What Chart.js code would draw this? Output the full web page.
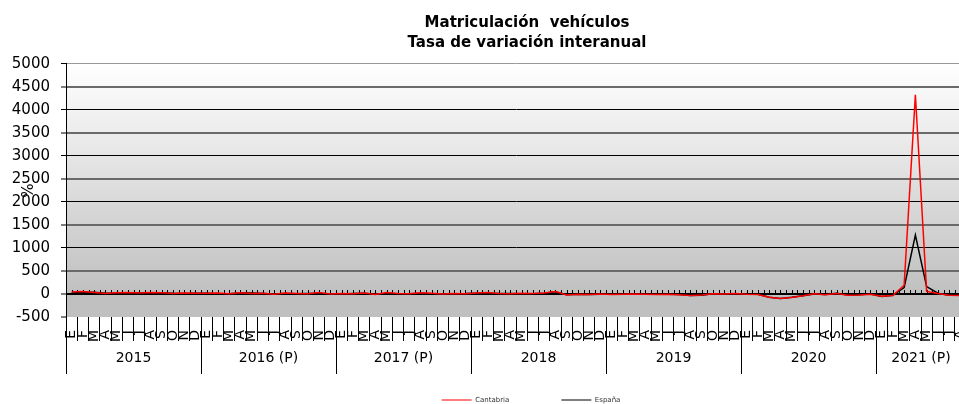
<!DOCTYPE html>
<html><head><meta charset="utf-8">
<script src="https://cdn.jsdelivr.net/npm/chart.js@4/dist/chart.umd.min.js"></script>
<style>
html,body{margin:0;padding:0;background:#fff;overflow:hidden;}
#wrap{width:959px;height:404px;overflow:hidden;position:relative;}
canvas{display:block;}
.warm{position:absolute;left:-9999px;top:0;font-family:'DejaVu Sans';}
</style></head><body>
<div class="warm">Aa0 <b>Aa0</b></div>
<div id="wrap"><canvas id="c" width="1054" height="404"></canvas></div>
<script>
const monthLetters = ['E','F','M','A','M','J','J','A','S','O','N','D'];
const years = ['2015','2016 (P)','2017 (P)','2018','2019','2020','2021 (P)'];
const monthsPerYear = [12,12,12,12,12,12,8];
const cantabria = [
  45, 55, 30, 10, 25, 35, 20, 30, 25, 10, 20, 15,
  15, 20, 5, 25, 10, 15, -5, 20, 10, 5, 30, 0,
  10, 5, 20, -10, 30, 10, 5, 25, 15, 0, 10, 5,
  20, 35, 10, 5, 15, 10, 20, 55, -20, -5, -10, 0,
  -10, -5, 0, -8, -12, -5, -15, -30, -20, 5, 0, 10,
  -5, -10, -70, -98, -75, -40, 5, -15, 10, -25, -20, -5,
  -50, -35, 190, 4330, 55, 10, -25, -30
];
const espana = [
  27, 31, 39, 15, 19, 24, 20, 24, 24, 14, 13, 15,
  16, 8, 5, 22, 20, 11, 1, 13, 8, 9, 10, 1,
  2, 9, 15, -6, 11, 7, 6, 10, 4, 8, 8, 9,
  17, 12, 12, 12, 8, 8, 17, 48, -17, -6, -12, -3,
  -8, -8, -4, -3, -7, -8, -11, -30, -26, 6, 2, 7,
  -7, -6, -69, -96, -72, -36, 1, -10, 14, -21, -19, -2,
  -55, -30, 140, 1280, 160, 17, -29, -28
];
const yMin = -500, yMax = 5000, yStep = 500;
const seriesNames = ['Cantabria', 'España'];
const titleLines = ['Matriculación  vehículos', 'Tasa de variación interanual'];

const labels = [];
monthsPerYear.forEach(n => { for (let i = 0; i < n; i++) labels.push(monthLetters[i]); });
const yearBounds = [-0.5];
const yearCenters = {};
let acc = 0;
monthsPerYear.forEach((n, i) => {
  yearCenters[(acc + n / 2 - 0.5).toFixed(2)] = years[i];
  acc += n;
  yearBounds.push(acc - 0.5);
});

const FONT = "'DejaVu Sans', Verdana, sans-serif";

const bgPlugin = {
  id: 'bg',
  beforeDraw(chart) {
    const {ctx, chartArea: a, scales: {y}} = chart;
    const z = y.getPixelForValue(0);
    const g = ctx.createLinearGradient(0, a.top, 0, z);
    g.addColorStop(0, '#ffffff');
    g.addColorStop(1, '#c0c0c0');
    ctx.save();
    ctx.fillStyle = g;
    ctx.fillRect(a.left, a.top, a.right - a.left, z - a.top);
    ctx.fillStyle = '#c0c0c0';
    ctx.fillRect(a.left, z, a.right - a.left, a.bottom - z);
    ctx.restore();
  }
};
const zeroTicks = {
  id: 'zeroTicks',
  beforeDatasetsDraw(chart) {
    const {ctx, scales: {x, y}} = chart;
    const z = Math.round(y.getPixelForValue(0));
    ctx.save();
    ctx.strokeStyle = '#000';
    ctx.lineWidth = 1;
    ctx.beginPath();
    for (let k = 0; k <= 2 * labels.length; k++) {
      const px = Math.round(x.getPixelForValue(k / 2 - 0.5)) + 0.5;
      ctx.moveTo(px, z - 4);
      ctx.lineTo(px, z);
    }
    ctx.stroke();
    ctx.restore();
  }
};
const legendShift = {
  id: 'legendShift',
  afterLayout(chart) {
    const l = chart.legend;
    if (l) { l.top -= 29.5; l.left += 4; l.right += 4; }
  }
};

function draw() {
new Chart(document.getElementById('c'), {
  type: 'line',
  data: {
    labels: labels,
    datasets: [
      {label: seriesNames[0], data: cantabria, borderColor: '#ff0000', backgroundColor: '#ff0000',
       borderWidth: 1.5, pointRadius: 0, tension: 0, fill: false},
      {label: seriesNames[1], data: espana, borderColor: '#000000', backgroundColor: '#000000',
       borderWidth: 1.5, pointRadius: 0, tension: 0, fill: false}
    ]
  },
  options: {
    responsive: false,
    animation: false,
    events: [],
    layout: {padding: 0},
    plugins: {
      tooltip: {enabled: false},
      title: {
        display: true,
        text: titleLines,
        color: '#000',
        font: {family: FONT, size: 15, weight: 'bold', lineHeight: 1.3333},
        padding: {top: 13, bottom: 11}
      },
      legend: {
        display: true,
        position: 'bottom',
        maxHeight: 30,
        labels: {
          boxWidth: 30,
          boxHeight: 1,
          padding: 52,
          color: '#333',
          font: {family: FONT, size: 7},
          generateLabels(chart) {
            const items = Chart.defaults.plugins.legend.labels.generateLabels(chart);
            items.forEach(it => { it.lineWidth = 0; it.fillStyle = it.strokeStyle; });
            return items;
          }
        }
      }
    },
    scales: {
      x: {
        type: 'category',
        position: 'bottom',
        weight: 0,
        offset: true,
        afterFit(s) { s.height = 24; },
        grid: {display: true, drawOnChartArea: false, drawTicks: true, tickLength: 24,
               color: '#000', lineWidth: 1, offset: true},
        border: {display: false},
        ticks: {autoSkip: false, minRotation: 90, maxRotation: 90, padding: -11,
                color: '#000', font: {family: FONT, size: 14}}
      },
      x2: {
        type: 'linear',
        position: 'bottom',
        weight: 1,
        min: -0.5,
        max: labels.length - 0.5,
        afterBuildTicks(s) {
          const vals = yearBounds.concat(Object.keys(yearCenters).map(Number)).sort((a, b) => a - b);
          s.ticks = vals.map(v => ({value: v}));
        },
        afterFit(s) { s.height = 33; },
        grid: {display: true, drawOnChartArea: false, drawTicks: true, tickLength: 33,
               color: (c) => (c.tick && yearCenters[c.tick.value.toFixed(2)] !== undefined) ? 'rgba(0,0,0,0)' : '#000',
               lineWidth: 1},
        border: {display: false},
        ticks: {autoSkip: false, minRotation: 0, maxRotation: 0, padding: -24.4,
                color: '#000', font: {family: FONT, size: 14},
                callback: (v) => yearCenters[Number(v).toFixed(2)] || ''}
      },
      y: {
        type: 'linear',
        position: 'left',
        min: yMin,
        max: yMax,
        afterFit(s) { s.width = 66; },
        title: {display: true, text: '%', color: '#000', font: {family: FONT, size: 15},
                padding: {top: 20, bottom: 0}},
        grid: {
          drawTicks: true, tickLength: 5, tickColor: '#000', tickWidth: 1,
          color: (c) => {
            const v = c.tick ? c.tick.value : null;
            if (v === yMin) return 'rgba(0,0,0,0)';
            if (v === yMax) return '#999';
            if (v === 0) return '#000';
            return (v % 1000 === 0) ? '#000' : '#6a6a6a';
          },
          lineWidth: (c) => {
            const v = c.tick ? c.tick.value : null;
            if (v === 0) return 2;
            if (v === yMax) return 1;
            return (v % 1000 === 0) ? 1 : 2;
          }
        },
        border: {display: true, color: '#000', width: 1},
        ticks: {stepSize: yStep, padding: 11, color: '#000', font: {family: FONT, size: 15},
                callback: (v) => String(v)}
      },
      yR: {
        type: 'linear',
        position: 'right',
        display: true,
        afterFit(s) { s.width = 88; },
        grid: {display: false, drawTicks: false},
        border: {display: false},
        ticks: {display: false}
      }
    }
  },
  plugins: [bgPlugin, zeroTicks, legendShift]
});
}
let drawn = false;
function go() { if (!drawn) { drawn = true; draw(); } }
if (document.fonts && document.fonts.load) {
  Promise.all([
    document.fonts.load("15px 'DejaVu Sans'"),
    document.fonts.load("bold 15px 'DejaVu Sans'")
  ]).then(go, go);
  setTimeout(go, 300);
} else { go(); }
</script>
</body></html>
